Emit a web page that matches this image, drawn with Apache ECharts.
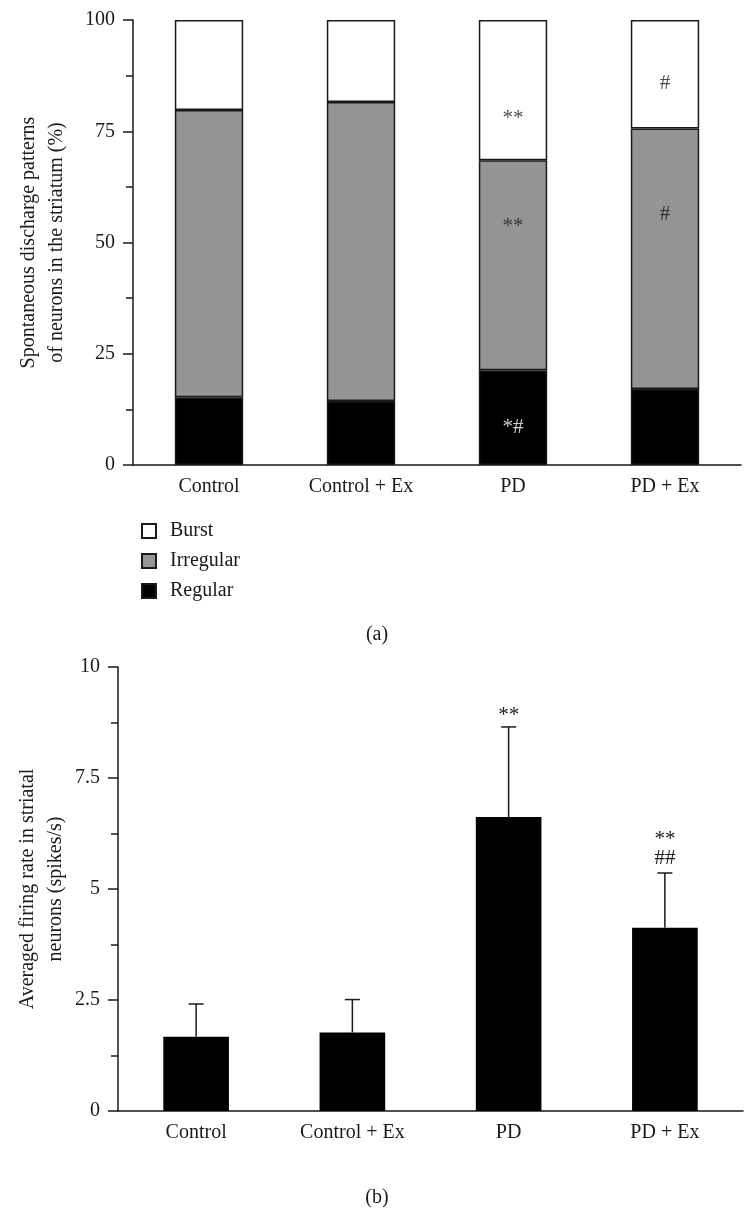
<!DOCTYPE html>
<html><head><meta charset="utf-8">
<script src="https://cdn.jsdelivr.net/npm/echarts@6/dist/echarts.min.js"></script>
<style>html,body{margin:0;padding:0;background:#fff}#c{width:754px;height:1225px}</style>
</head><body><div id="c"></div><script>
// ---- data ----
const categories = ['Control', 'Control + Ex', 'PD', 'PD + Ex'];
const regular = [15.2, 14.4, 21.3, 17.1];
const irregular = [64.6, 67.2, 47.2, 58.5];
const burst = [20.2, 18.4, 31.5, 24.4];
const patternTicks = [0, 25, 50, 75, 100];
const annotCat = ['PD', 'PD', 'PD', 'PD + Ex', 'PD + Ex'];
const annotVal = [78.7, 54.4, 9.4, 85.8, 56.2];
const annotText = ['**', '**', '*#', '#', '#'];
const annotOnBlack = [false, false, true, false, false];
const rateMean = [1.67, 1.77, 6.62, 4.13];
const rateSD = [0.74, 0.74, 2.03, 1.23];
const rateSig = [[], [], ['**'], ['##', '**']];   // lines from bottom to top
const rateTicks = [0, 2.5, 5, 7.5, 10];

// ---- styles ----
const FONT = 'Liberation Serif';
const INK = '#1a1a1a';
const FS = 20;

const chart = echarts.init(document.getElementById('c'), null, {renderer: 'canvas'});

function yAxisCommon(ticks, name, nameGap) {
  return {
    type: 'value',
    min: ticks[0], max: ticks[ticks.length - 1],
    interval: ticks[1] - ticks[0],
    name: name, nameLocation: 'middle', nameGap: nameGap, nameMoveOverlap: false,
    nameTextStyle: {fontFamily: FONT, fontSize: FS, color: INK, lineHeight: 28},
    axisLine: {show: true, lineStyle: {color: INK, width: 1.5}},
    axisTick: {show: true, length: 10, lineStyle: {color: INK, width: 1.5}},
    minorTick: {show: true, splitNumber: 2, length: 7, lineStyle: {color: INK, width: 1.5}},
    splitLine: {show: false},
    axisLabel: {fontFamily: FONT, fontSize: FS, color: INK, margin: 18}
  };
}
function xAxisCommon(grid) {
  return {
    type: 'category', gridIndex: grid, data: categories,
    axisLine: {show: true, lineStyle: {color: INK, width: 1.5}},
    axisTick: {show: false},
    axisLabel: {fontFamily: FONT, fontSize: FS, color: INK, margin: 12, interval: 0}
  };
}

const segStyle = (fill) => ({color: fill, borderColor: INK, borderWidth: 1.5});

const option = {
  animation: false,
  backgroundColor: '#fff',
  title: [
    {text: '(a)', left: 'center', top: 620, textStyle: {fontFamily: FONT, fontSize: FS, fontWeight: 'normal', color: INK}},
    {text: '(b)', left: 'center', top: 1183, textStyle: {fontFamily: FONT, fontSize: FS, fontWeight: 'normal', color: INK}}
  ],
  legend: {
    data: ['Burst', 'Irregular', 'Regular'],
    orient: 'vertical', left: 136, top: 516,
    itemWidth: 14, itemHeight: 14, itemGap: 10,
    icon: 'rect',
    textStyle: {fontFamily: FONT, fontSize: FS, color: INK, lineHeight: 20, padding: [0, 0, 0, 9]}
  },
  grid: [
    {left: 133, width: 608, top: 20, height: 445},
    {left: 118, width: 625, top: 667, height: 444}
  ],
  xAxis: [xAxisCommon(0), xAxisCommon(1)],
  yAxis: [
    Object.assign(yAxisCommon(patternTicks, 'Spontaneous discharge patterns\nof neurons in the striatum (%)', 62), {gridIndex: 0}),
    Object.assign(yAxisCommon(rateTicks, 'Averaged firing rate in striatal\nneurons (spikes/s)', 48), {gridIndex: 1})
  ],
  series: [
    {name: 'Regular', type: 'bar', stack: 'p', xAxisIndex: 0, yAxisIndex: 0, barWidth: '45%',
     data: regular, itemStyle: segStyle('#000000')},
    {name: 'Irregular', type: 'bar', stack: 'p', xAxisIndex: 0, yAxisIndex: 0, barWidth: '45%',
     data: irregular, itemStyle: segStyle('#959595')},
    {name: 'Burst', type: 'bar', stack: 'p', xAxisIndex: 0, yAxisIndex: 0, barWidth: '45%',
     data: burst, itemStyle: segStyle('#ffffff')},
    {name: 'annot', type: 'scatter', xAxisIndex: 0, yAxisIndex: 0, symbolSize: 0, silent: true,
     data: annotCat.map((c, i) => ({
       value: [c, annotVal[i]],
       label: {show: true, position: 'inside', formatter: annotText[i],
               offset: [0, annotText[i].indexOf('*') >= 0 ? 4 : 0],
               color: annotOnBlack[i] ? '#fff' : INK, fontFamily: FONT, fontSize: 21}
     }))},
    {name: 'Rate', type: 'bar', xAxisIndex: 1, yAxisIndex: 1, barWidth: '42%',
     data: rateMean, itemStyle: {color: '#000'}},
    {name: 'RateErr', type: 'custom', xAxisIndex: 1, yAxisIndex: 1, silent: true, z: 5,
     data: rateMean.map((m, i) => [i, m, rateSD[i]]),
     renderItem: function (params, api) {
       const x = api.value(0), m = api.value(1), sd = api.value(2);
       const b = api.coord([x, m]);
       const t = api.coord([x, m + sd]);
       const ls = {stroke: INK, lineWidth: 1.5};
       const children = [
         {type: 'line', shape: {x1: b[0], y1: b[1], x2: t[0], y2: t[1]}, style: ls},
         {type: 'line', shape: {x1: t[0] - 7.5, y1: t[1], x2: t[0] + 7.5, y2: t[1]}, style: ls}
       ];
       rateSig[params.dataIndex].forEach(function (txt, k) {
         const yc = t[1] - 15 - 23 * k + (txt.indexOf('*') >= 0 ? 4 : 0);
         children.push({type: 'text', style: {text: txt, x: t[0], y: yc,
           align: 'center', verticalAlign: 'middle', fontFamily: FONT, fontSize: 21, fill: INK}});
       });
       return {type: 'group', children: children};
     }}
  ]
};
chart.setOption(option);
</script></body></html>
